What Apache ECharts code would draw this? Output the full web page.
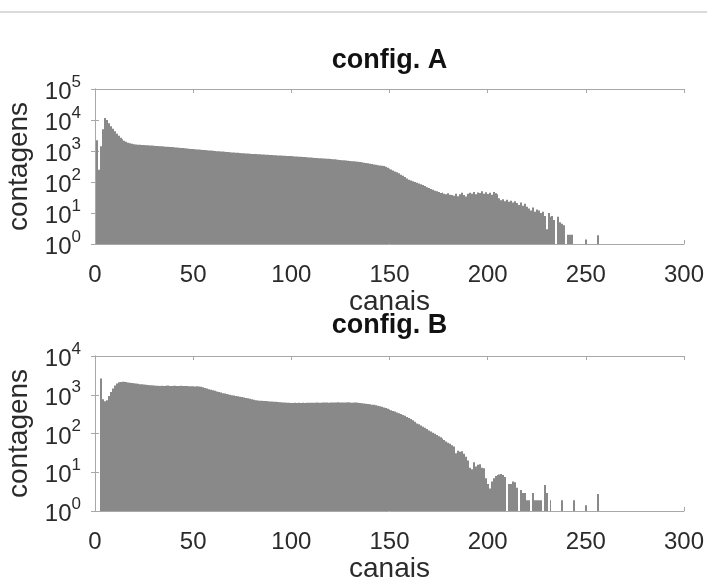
<!DOCTYPE html>
<html>
<head>
<meta charset="utf-8">
<script src="https://cdn.jsdelivr.net/npm/echarts@6/dist/echarts.min.js"></script>
<style>
html,body{margin:0;padding:0;background:#fff;}
#chart{width:707px;height:582px;}
</style>
</head>
<body>
<div id="chart"></div>
<script>
// ---- data ----
const titles = ['config. A', 'config. B'];
const xLabelName = 'canais';
const yLabelName = 'contagens';
const xTicks = [0, 50, 100, 150, 200, 250, 300];
const yMaxA = 1e5;
const yMaxB = 1e4;
const binWidth = 1;

// counts per channel, index = channel number (0 = empty bin)
const countsA = [
  0, 2240, 250, 1410, 5000, 11700, 10000, 7900, 6300, 5250,
  4370, 3630, 3090, 2690, 2400, 2140, 2000, 1860, 1780, 1700,
  1660, 1610, 1590, 1580, 1560, 1550, 1530, 1520, 1510, 1500,
  1480, 1450, 1440, 1430, 1410, 1400, 1380, 1370, 1350, 1340,
  1320, 1300, 1290, 1270, 1250, 1240, 1220, 1200, 1180, 1170,
  1150, 1140, 1120, 1110, 1100, 1080, 1070, 1050, 1040, 1030,
  1010, 1000, 990, 980, 970, 955, 945, 935, 925, 910,
  900, 890, 880, 870, 860, 850, 840, 830, 825, 815,
  805, 800, 795, 785, 780, 775, 765, 760, 755, 745,
  740, 735, 730, 720, 715, 710, 705, 700, 695, 690,
  685, 680, 670, 665, 658, 650, 645, 638, 630, 622,
  615, 608, 600, 595, 588, 582, 576, 570, 565, 558,
  552, 545, 538, 530, 522, 515, 507, 500, 492, 485,
  477, 470, 463, 457, 448, 440, 430, 420, 410, 400,
  390, 380, 370, 360, 350, 342, 335, 328, 310, 290,
  270, 252, 235, 220, 205, 190, 172, 158, 145, 130,
  118, 112, 106, 100, 95, 90, 85, 80, 74, 68,
  64, 60, 56, 52, 50, 48, 44, 46, 42, 40,
  43, 39, 38, 36, 42, 35, 40, 45, 38, 34,
  42, 45, 42, 48, 40, 46, 44, 50, 42, 47,
  41, 45, 39, 48, 43, 40, 30, 26, 28, 24,
  27, 23, 25, 22, 24, 21, 18, 22, 17, 20,
  16, 14, 12, 15, 11, 13, 12, 10, 11, 8,
  3, 10, 7.5, 8, 6, 0, 7.5, 5, 4.5, 4,
  0, 2, 2, 2, 0, 0, 0, 0, 0, 0,
  1.4, 0, 0, 0, 0, 0, 1.9
];

const countsB = [
  0, 0, 0, 2630, 760, 680, 720, 930, 1170, 1450,
  1740, 1950, 2090, 2140, 2160, 2150, 2130, 2080, 2040, 2000,
  1970, 1940, 1910, 1880, 1860, 1840, 1810, 1790, 1770, 1750,
  1730, 1710, 1700, 1690, 1710, 1680, 1700, 1720, 1690, 1680,
  1700, 1710, 1690, 1670, 1700, 1690, 1680, 1670, 1660, 1650,
  1660, 1640, 1650, 1630, 1620, 1560, 1500, 1440, 1380, 1340,
  1300, 1260, 1220, 1180, 1140, 1100, 1070, 1045, 1020, 995,
  970, 950, 930, 910, 890, 870, 850, 830, 810, 790,
  770, 745, 725, 715, 705, 700, 690, 685, 680, 672,
  666, 660, 655, 650, 645, 640, 635, 630, 625, 620,
  615, 615, 618, 612, 620, 616, 622, 614, 619, 624,
  618, 625, 620, 628, 622, 626, 630, 628, 632, 625,
  630, 634, 627, 631, 636, 629, 633, 628, 632, 637,
  630, 626, 631, 628, 620, 612, 605, 595, 585, 575,
  565, 556, 548, 535, 520, 505, 490, 472, 455, 437,
  418, 400, 383, 367, 350, 333, 318, 302, 285, 268,
  250, 235, 220, 200, 182, 172, 162, 150, 140, 130,
  120, 112, 105, 98, 92, 85, 80, 74, 68, 62,
  58, 54, 50, 46, 31, 36, 34, 35, 30, 25,
  20, 13, 12, 18, 14, 15.5, 16, 13, 12.6, 7,
  5, 3.8, 5.8, 7, 8, 8.5, 8.8, 9, 8.5, 7.5,
  0, 5, 5, 5.8, 5.5, 4, 0, 3.5, 2.9, 2.9,
  1.9, 1.9, 0, 2.9, 1.9, 1.9, 1.9, 1.9, 0, 4.7,
  2.9, 0, 1.9, 0, 0, 0, 0, 0, 1.9, 0,
  0, 0, 0, 0, 1.9, 0, 0, 0, 0, 0,
  1.4, 0, 0, 0, 0, 0, 2.75
];

// ---- styling ----
const FONT = "'Liberation Sans', Arial, Helvetica, sans-serif";
const TXT = '#2b2b2b';
const AX = '#a8a8a8';
const BAR = '#898989';

function toPairs(arr) {
  return arr.map((v, i) => [i, v > 0 ? v : null]).filter(p => p[1] !== null);
}

const grids = [
  { left: 95, top: 89, width: 589, height: 155, containLabel: false, outerBoundsMode: 'none' },
  { left: 95, top: 356, width: 589, height: 155, containLabel: false, outerBoundsMode: 'none' }
];

function xAxes(gi) {
  const base = {
    type: 'value', gridIndex: gi, min: xTicks[0], max: xTicks[xTicks.length - 1], interval: 50,
    splitLine: { show: false },
    axisLine: { show: true, lineStyle: { color: AX, width: 1 } },
    axisTick: { show: true, inside: true, length: 4, lineStyle: { color: AX } }
  };
  return [
    Object.assign({}, base, {
      position: 'bottom',
      name: xLabelName, nameLocation: 'middle', nameGap: 44,
      nameTextStyle: { fontFamily: FONT, fontSize: 28, color: TXT },
      axisLabel: { show: true, margin: 19, fontFamily: FONT, fontSize: 24, color: TXT }
    }),
    Object.assign({}, base, { position: 'top', axisLabel: { show: false } })
  ];
}

function yAxes(gi, maxV) {
  const base = {
    type: 'log', logBase: 10, gridIndex: gi, min: 1, max: maxV,
    splitNumber: Math.round(Math.log10(maxV)),
    splitLine: { show: false }, minorTick: { show: false },
    axisLine: { show: true, lineStyle: { color: AX, width: 1 } },
    axisTick: { show: true, inside: true, length: 4, lineStyle: { color: AX } }
  };
  return [
    Object.assign({}, base, {
      position: 'left',
      name: yLabelName, nameLocation: 'middle', nameGap: 62,
      nameTextStyle: { fontFamily: FONT, fontSize: 28, color: TXT },
      axisLabel: {
        show: true, margin: 14,
        formatter: function (v) { return '{b|10}{s|' + Math.round(Math.log10(v)) + '}'; },
        rich: {
          b: { fontFamily: FONT, fontSize: 24, color: TXT, verticalAlign: 'bottom' },
          s: { fontFamily: FONT, fontSize: 17, color: TXT, verticalAlign: 'bottom', padding: [0, 0, 14, 0] }
        }
      }
    }),
    Object.assign({}, base, { position: 'right', axisLabel: { show: false } })
  ];
}

function renderBin(params, api) {
  const c = api.value(0);
  const v = api.value(1);
  const p0 = api.coord([c - binWidth / 2, v]);
  const p1 = api.coord([c + binWidth / 2, 1]);
  const x0 = Math.round(p0[0]);
  let x1 = Math.round(p1[0]);
  if (x1 <= x0) x1 = x0 + 1;
  return {
    type: 'rect',
    shape: { x: x0, y: p0[1], width: x1 - x0, height: p1[1] - p0[1] },
    style: { fill: BAR }
  };
}

const chart = echarts.init(document.getElementById('chart'), null, { renderer: 'canvas' });
chart.setOption({
  animation: false,
  backgroundColor: '#ffffff',
  grid: grids,
  xAxis: xAxes(0).concat(xAxes(1)),
  yAxis: yAxes(0, yMaxA).concat(yAxes(1, yMaxB)),
  graphic: [
    { type: 'rect', shape: { x: 0, y: 11, width: 707, height: 2 }, style: { fill: '#dadada' }, silent: true },
    { type: 'text', x: 389.5, y: 61, style: { text: titles[0], textAlign: 'center', textVerticalAlign: 'middle', font: 'bold 27px ' + FONT, fill: '#111' } },
    { type: 'text', x: 389.5, y: 326, style: { text: titles[1], textAlign: 'center', textVerticalAlign: 'middle', font: 'bold 27px ' + FONT, fill: '#111' } }
  ],
  series: [
    { type: 'custom', xAxisIndex: 0, yAxisIndex: 0, data: toPairs(countsA), renderItem: renderBin, clip: true, z: 1 },
    { type: 'custom', xAxisIndex: 2, yAxisIndex: 2, data: toPairs(countsB), renderItem: renderBin, clip: true, z: 1 }
  ]
});
</script>
</body>
</html>
